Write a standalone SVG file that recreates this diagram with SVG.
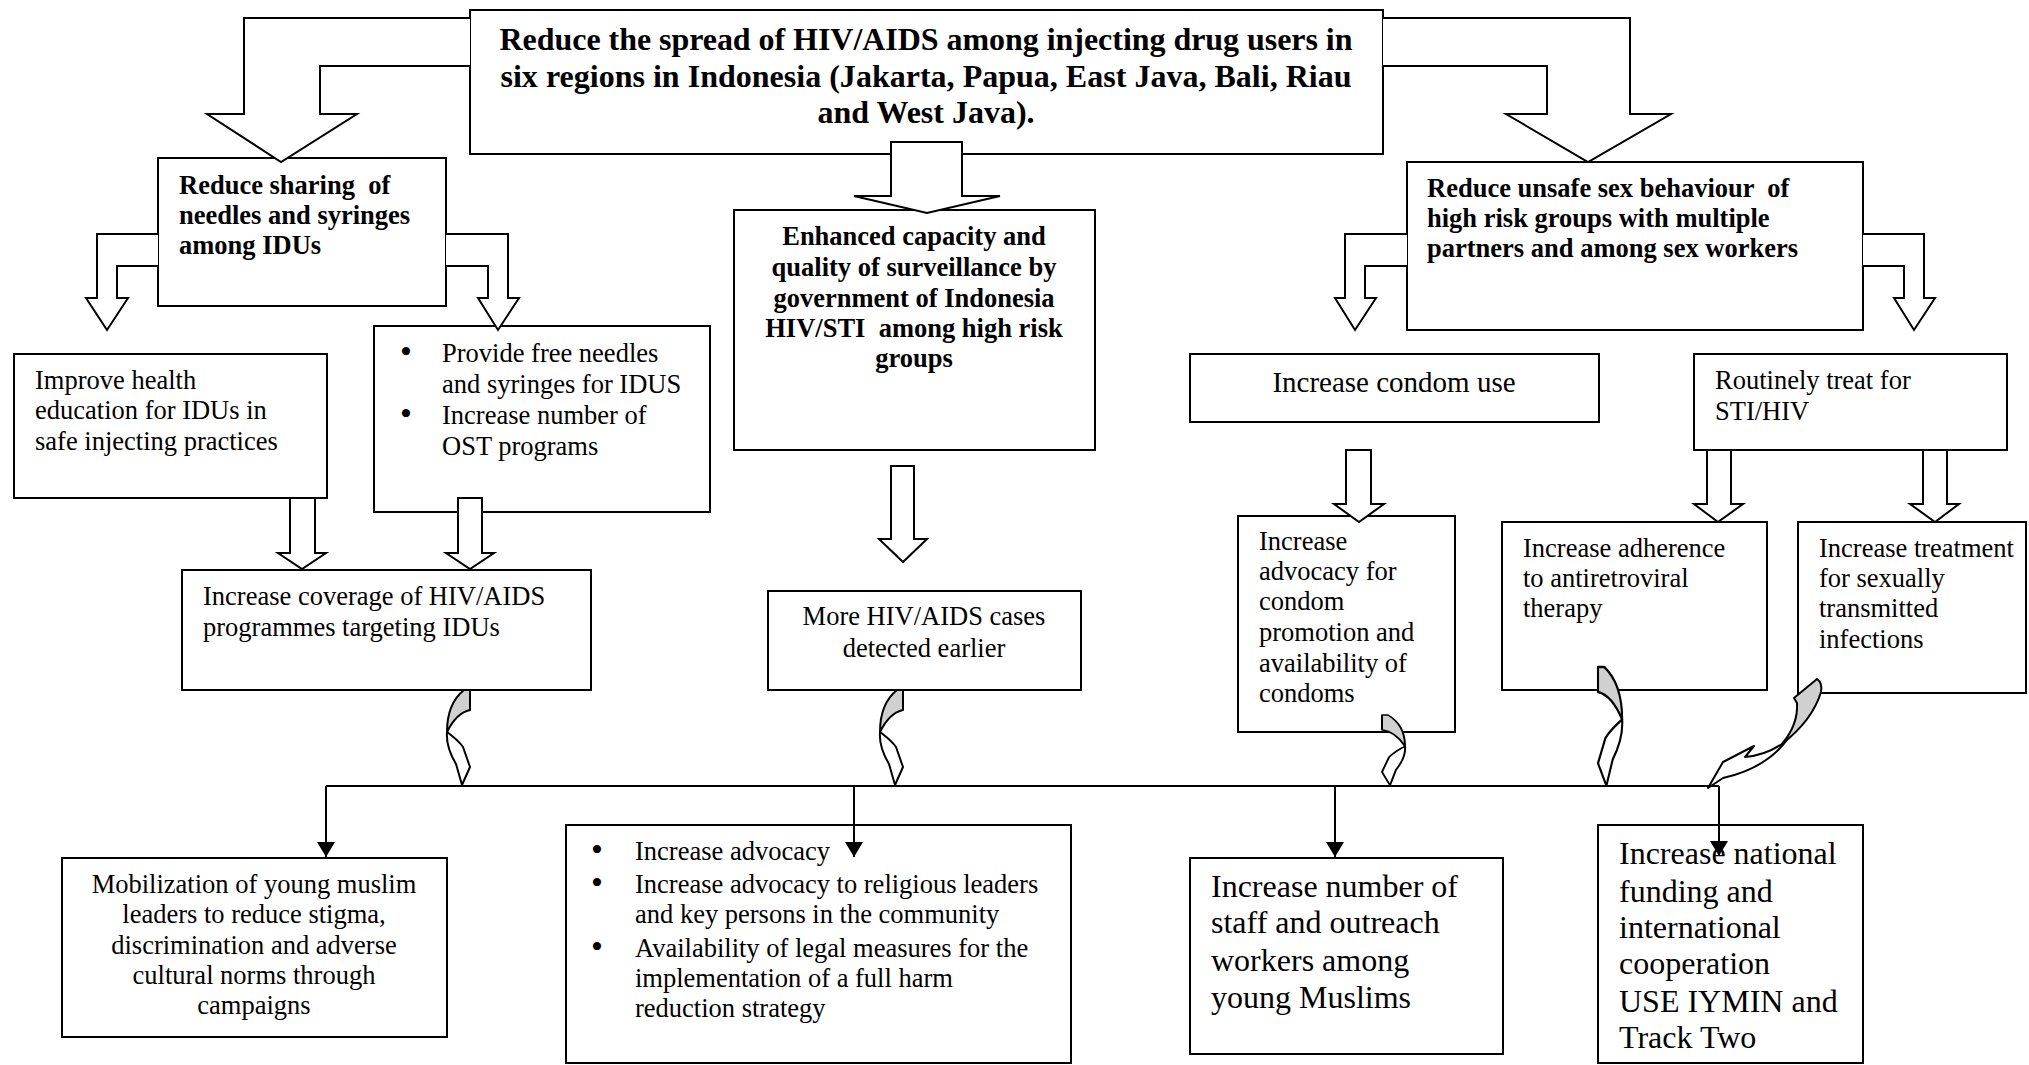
<svg xmlns="http://www.w3.org/2000/svg" xmlns:xlink="http://www.w3.org/1999/xlink" width="2029" height="1065" viewBox="0 0 2029 1065">
<style>
.box{fill:#fff;stroke:#000;stroke-width:2}
.blk{fill:#fff;stroke:#000;stroke-width:2;stroke-linejoin:miter}
.ln{fill:none;stroke:#000;stroke-width:2}
.gr{fill:#d0d0d0;stroke:#000;stroke-width:2;stroke-linejoin:round}
.wh{fill:#fff;stroke:#000;stroke-width:2;stroke-linejoin:round}
text{font-family:"Liberation Serif","Times New Roman",serif;font-size:26.5px;fill:#000;white-space:pre}
.b{font-weight:bold}
.c{text-anchor:middle}
.big{font-size:32px}
.bu{font-size:34px}
</style>
<defs>
<marker id="ah" markerUnits="userSpaceOnUse" markerWidth="20" markerHeight="18" refX="15" refY="9" orient="auto">
<path d="M0,0 L15,9 L0,18 Z" fill="#000"/>
</marker>
<g id="curveL">
<path class="gr" d="M0,0 L-6,0 C-16,8 -23,22 -23,42 C-18,32 -10,22 0,20 Z"/>
<path class="wh" d="M-23,42 C-24,54 -20,64 -14,74 L-8,95 L0,77 L-7,57 C-12,50 -18,46 -23,42 Z"/>
</g>
</defs>

<g id="n-top">
<rect class="box" x="470" y="10" width="913" height="144"/>
<text class="b c big" x="926" y="50" textLength="853">Reduce the spread of HIV/AIDS among injecting drug users in</text>
<text class="b c big" x="926" y="87" textLength="851">six regions in Indonesia (Jakarta, Papua, East Java, Bali, Riau</text>
<text class="b c big" x="926" y="123">and West Java).</text>
</g>

<g id="n-sharing">
<rect class="box" x="158" y="158" width="288" height="148"/>
<text class="b" x="179" y="194">Reduce sharing  of</text>
<text class="b" x="179" y="224">needles and syringes</text>
<text class="b" x="179" y="254">among IDUs</text>
</g>

<g id="n-surveillance">
<rect class="box" x="734" y="210" width="361" height="240"/>
<text class="b c" x="914" y="245">Enhanced capacity and</text>
<text class="b c" x="914" y="276">quality of surveillance by</text>
<text class="b c" x="914" y="307">government of Indonesia</text>
<text class="b c" x="914" y="337">HIV/STI  among high risk</text>
<text class="b c" x="914" y="367">groups</text>
</g>

<g id="n-unsafe">
<rect class="box" x="1407" y="162" width="456" height="168"/>
<text class="b" x="1427" y="197">Reduce unsafe sex behaviour  of</text>
<text class="b" x="1427" y="227">high risk groups with multiple</text>
<text class="b" x="1427" y="257">partners and among sex workers</text>
</g>

<g id="n-improve">
<rect class="box" x="14" y="354" width="313" height="144"/>
<text x="35" y="389">Improve health</text>
<text x="35" y="419">education for IDUs in</text>
<text x="35" y="450">safe injecting practices</text>
</g>

<g id="n-provide">
<rect class="box" x="374" y="326" width="336" height="186"/>
<text class="bu" x="400" y="363">•</text>
<text x="442" y="362">Provide free needles</text>
<text x="442" y="393">and syringes for IDUS</text>
<text class="bu" x="400" y="425">•</text>
<text x="442" y="424">Increase number of</text>
<text x="442" y="455">OST programs</text>
</g>

<g id="n-coverage">
<rect class="box" x="182" y="570" width="409" height="120"/>
<text x="203" y="605">Increase coverage of HIV/AIDS</text>
<text x="203" y="636">programmes targeting IDUs</text>
</g>

<g id="n-detected">
<rect class="box" x="768" y="591" width="313" height="99"/>
<text class="c" x="924" y="625">More HIV/AIDS cases</text>
<text class="c" x="924" y="657">detected earlier</text>
</g>

<g id="n-condom">
<rect class="box" x="1190" y="354" width="409" height="68"/>
<text class="c" x="1394" y="392" style="font-size:29px">Increase condom use</text>
</g>

<g id="n-routine">
<rect class="box" x="1694" y="354" width="313" height="96"/>
<text x="1715" y="389">Routinely treat for</text>
<text x="1715" y="420">STI/HIV</text>
</g>

<g id="n-advocacy-condom">
<rect class="box" x="1238" y="516" width="217" height="216"/>
<text x="1259" y="550">Increase</text>
<text x="1259" y="580">advocacy for</text>
<text x="1259" y="610">condom</text>
<text x="1259" y="641">promotion and</text>
<text x="1259" y="672">availability of</text>
<text x="1259" y="702">condoms</text>
</g>

<g id="n-adherence">
<rect class="box" x="1502" y="522" width="265" height="168"/>
<text x="1523" y="557">Increase adherence</text>
<text x="1523" y="587">to antiretroviral</text>
<text x="1523" y="617">therapy</text>
</g>

<g id="n-treatment">
<rect class="box" x="1798" y="522" width="228" height="171"/>
<text x="1819" y="557">Increase treatment</text>
<text x="1819" y="587">for sexually</text>
<text x="1819" y="617">transmitted</text>
<text x="1819" y="648">infections</text>
</g>

<g id="n-mobilization">
<rect class="box" x="62" y="858" width="385" height="179"/>
<text class="c" x="254" y="893">Mobilization of young muslim</text>
<text class="c" x="254" y="923">leaders to reduce stigma,</text>
<text class="c" x="254" y="954">discrimination and adverse</text>
<text class="c" x="254" y="984">cultural norms through</text>
<text class="c" x="254" y="1014">campaigns</text>
</g>

<g id="n-advocacy">
<rect class="box" x="566" y="825" width="505" height="238"/>
<text class="bu" x="591" y="861">•</text>
<text x="635" y="860">Increase advocacy</text>
<text class="bu" x="591" y="894">•</text>
<text x="635" y="893">Increase advocacy to religious leaders</text>
<text x="635" y="923">and key persons in the community</text>
<text class="bu" x="591" y="958">•</text>
<text x="635" y="957">Availability of legal measures for the</text>
<text x="635" y="987">implementation of a full harm</text>
<text x="635" y="1017">reduction strategy</text>
</g>

<g id="n-staff">
<rect class="box" x="1190" y="858" width="313" height="196"/>
<text class="big" x="1211" y="897">Increase number of</text>
<text class="big" x="1211" y="933">staff and outreach</text>
<text class="big" x="1211" y="971">workers among</text>
<text class="big" x="1211" y="1008">young Muslims</text>
</g>

<g id="n-funding">
<rect class="box" x="1598" y="825" width="265" height="238"/>
<text class="big" x="1619" y="864">Increase national</text>
<text class="big" x="1619" y="902">funding and</text>
<text class="big" x="1619" y="938">international</text>
<text class="big" x="1619" y="974">cooperation</text>
<text class="big" x="1619" y="1012">USE IYMIN and</text>
<text class="big" x="1619" y="1048">Track Two</text>
</g>

<g id="connectors">
<path class="blk" d="M470,18 L244,18 L244,114 L207,114 L281,162 L357,114 L320,114 L320,66 L470,66"/>
<path class="blk" d="M1383,18 L1630,18 L1630,114 L1671,114 L1588,162 L1506,114 L1547,114 L1547,66 L1383,66"/>
<path class="blk" d="M891,142 L962,142 L962,196 L1000,196 L927,213 L854,196 L891,196 Z"/>
<path class="blk" d="M158,234 L97,234 L97,298 L86,298 L107,330 L128,298 L117,298 L117,266 L158,266"/>
<path class="blk" d="M446,234 L508,234 L508,298 L519,298 L498,330 L478,298 L488,298 L488,266 L446,266"/>
<path class="blk" d="M1407,234 L1345,234 L1345,298 L1335,298 L1355,330 L1376,298 L1365,298 L1365,266 L1407,266"/>
<path class="blk" d="M1863,234 L1924,234 L1924,298 L1935,298 L1914,330 L1894,298 L1904,298 L1904,266 L1863,266"/>
<path class="blk" d="M290,498 L315,498 L315,553 L326,553 L302,569 L278,553 L290,553 Z"/>
<path class="blk" d="M458,498 L482,498 L482,553 L494,553 L470,569 L446,553 L458,553 Z"/>
<path class="blk" d="M891,466 L914,466 L914,539 L927,539 L903,562 L879,539 L891,539 Z"/>
<path class="blk" d="M1346,450 L1371,450 L1371,504 L1384,504 L1359,522 L1334,504 L1346,504 Z"/>
<path class="blk" d="M1707,450 L1731,450 L1731,504 L1743,504 L1718,522 L1694,504 L1707,504 Z"/>
<path class="blk" d="M1923,450 L1947,450 L1947,504 L1959,504 L1935,522 L1910,504 L1923,504 Z"/>
<path class="ln" d="M326,786 L1719,786"/>
<path class="ln" d="M326,786 L326,857" marker-end="url(#ah)"/>
<path class="ln" d="M854,786 L854,857" marker-end="url(#ah)"/>
<path class="ln" d="M1335,786 L1335,857" marker-end="url(#ah)"/>
<path class="ln" d="M1719,786 L1719,856" marker-end="url(#ah)"/>
<use xlink:href="#curveL" href="#curveL" transform="translate(470,690)"/>
<use xlink:href="#curveL" href="#curveL" transform="translate(903,690)"/>
<use xlink:href="#curveL" href="#curveL" transform="translate(1382,715) scale(-1,0.74)"/>
<use xlink:href="#curveL" href="#curveL" transform="translate(1598,667) scale(-1.05,1.25)"/>
<path class="gr" d="M1817,679 L1794,698 L1797,703 C1798,718 1792,732 1782,744 C1800,730 1815,712 1821,692 C1822,686 1820,681 1817,679 Z"/>
<path class="wh" d="M1782,744 C1770,752 1758,756 1745,757 L1754,746 L1723,762 L1708,788 L1723,778 C1750,772 1772,760 1787,740 Z"/>
</g>
</svg>
